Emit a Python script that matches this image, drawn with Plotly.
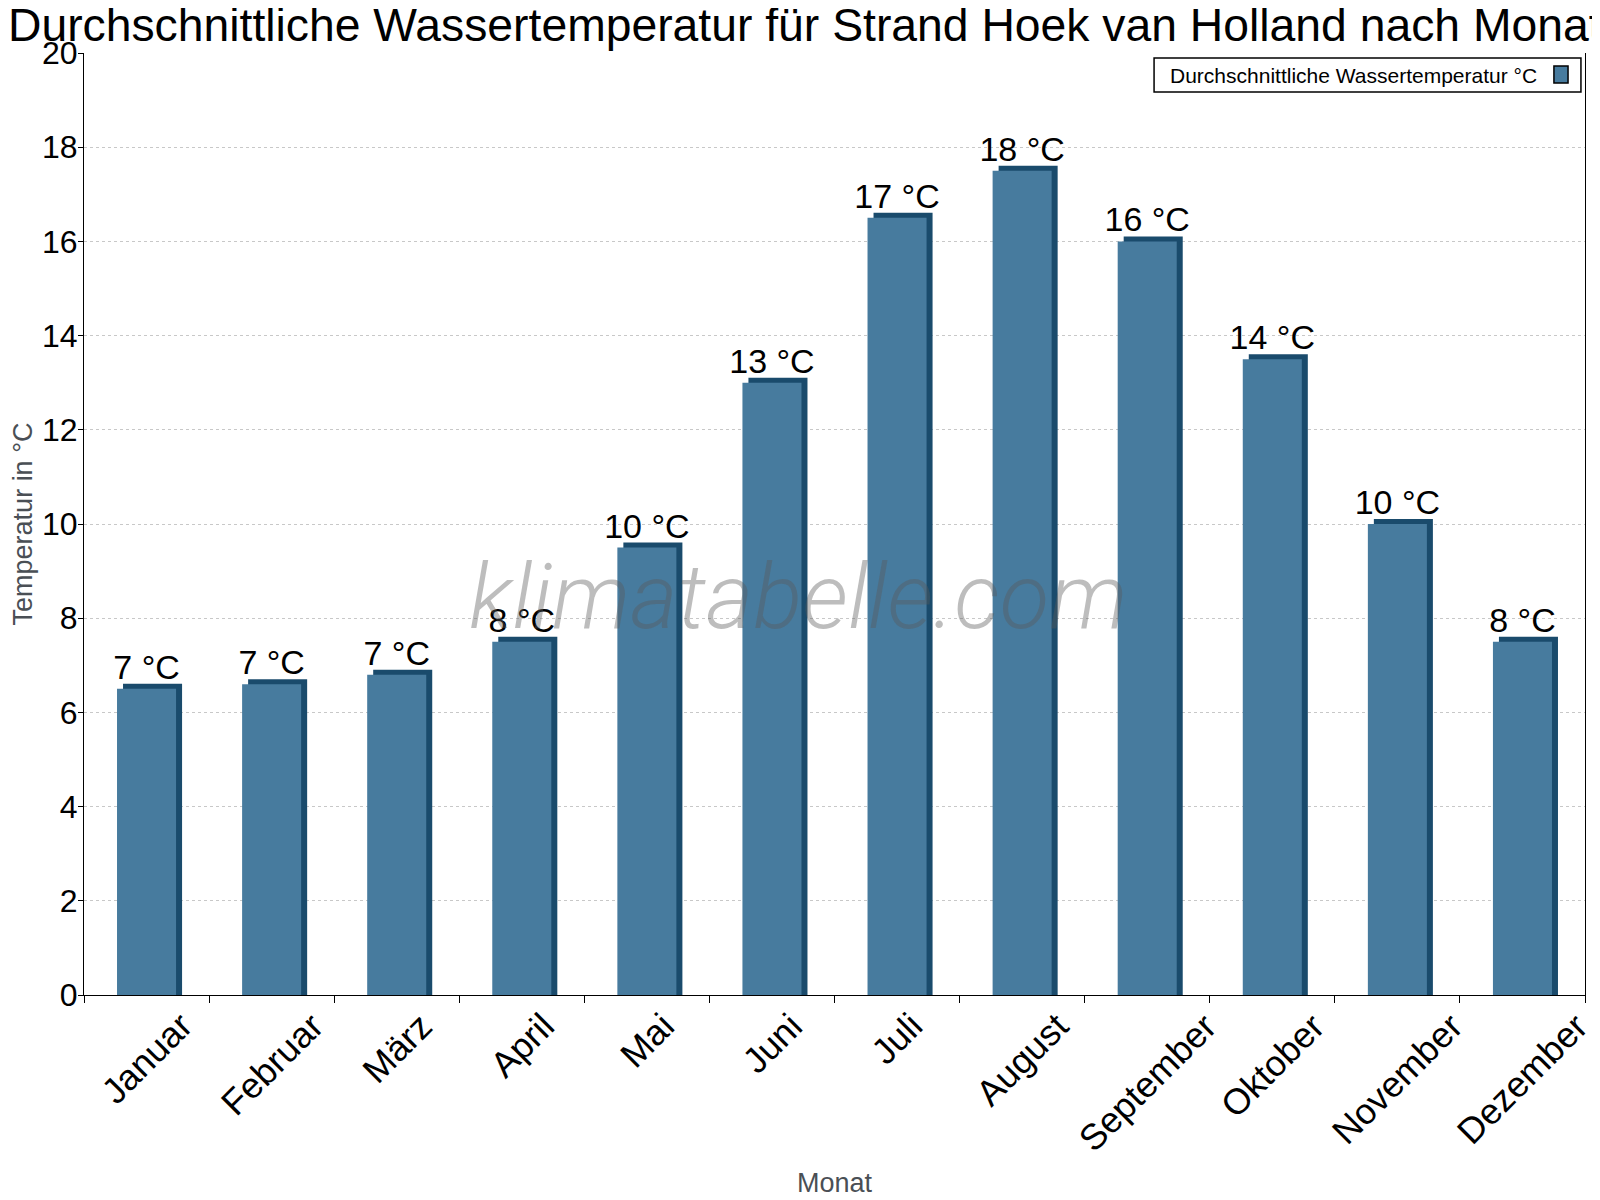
import plotly.graph_objects as go

monate = ['Januar', 'Februar', 'März', 'April', 'Mai', 'Juni', 'Juli',
          'August', 'September', 'Oktober', 'November', 'Dezember']
wassertemp = [6.5, 6.6, 6.8, 7.5, 9.5, 13.0, 16.5, 17.5, 16.0, 13.5, 10.0, 7.5]
beschriftung = ['7 °C', '7 °C', '7 °C', '8 °C', '10 °C', '13 °C', '17 °C',
                '18 °C', '16 °C', '14 °C', '10 °C', '8 °C']
y_ticks = list(range(0, 21, 2))

hell = '#477b9e'
dunkel = '#1a4b6c'
schrift = 'Liberation Sans, Arial, sans-serif'

fig = go.Figure()

# dunkle Rückseite für den 3D-Effekt (etwas nach rechts/oben versetzt)
fig.add_trace(go.Bar(
    x=monate, y=[v + 0.106 for v in wassertemp],
    width=0.472, offset=-0.188,
    marker=dict(color=dunkel, line=dict(width=0)),
    hoverinfo='skip', showlegend=False,
))
# Vorderseite
fig.add_trace(go.Bar(
    x=monate, y=wassertemp,
    width=0.472, offset=-0.236,
    marker=dict(color=hell, line=dict(width=0)),
    text=beschriftung, textposition='outside', constraintext='none',
    textfont=dict(family=schrift, size=34, color='black'),
    cliponaxis=False,
    name='Durchschnittliche Wassertemperatur °C', showlegend=False,
))

# die Seite hat 8px Rand -> Ränder entsprechend verschoben
fig.update_layout(
    template='none',
    barmode='overlay',
    width=1600, height=1200,
    margin=dict(l=76, r=23, t=45, b=213, autoexpand=False),
    plot_bgcolor='white', paper_bgcolor='white',
    font=dict(family=schrift, color='black'),
    title=dict(text='Durchschnittliche Wassertemperatur für Strand Hoek van Holland nach Monat',
               x=0.498, xanchor='center', y=1 - 16.5 / 1200, yanchor='middle',
               font=dict(size=46.3, color='black')),
)

fig.update_xaxes(
    type='category', range=[-0.5, len(monate) - 0.5],
    tickson='boundaries', ticks='outside', ticklen=7, tickcolor='black',
    showline=True, linecolor='black', linewidth=1, showgrid=False, automargin=False,
    showticklabels=False,
    title=dict(text='Monat', font=dict(size=27, color='#4a4f55'), standoff=178),
)
fig.update_yaxes(
    range=[0, 20], tickvals=y_ticks, ticks='outside', ticklen=5, tickcolor='black',
    showline=True, linecolor='black', linewidth=1, mirror=True, automargin=False,
    showgrid=True, gridcolor='#c8c8c8', griddash='dot', gridwidth=1, zeroline=False,
    tickfont=dict(size=32, color='black'), ticklabelstandoff=-6,
    title=dict(text='Temperatur in °C', font=dict(size=27, color='#4a4f55'), standoff=11),
)

# Monatsnamen schräg, mittig unter der Kategorie
for m in monate:
    fig.add_annotation(
        text=m, xref='x', yref='paper', x=m, y=-0.008,
        xanchor='center', yanchor='top', showarrow=False, textangle=-45,
        font=dict(size=36, color='black'),
    )

# Wasserzeichen
fig.add_annotation(
    text='klimatabelle.com', xref='paper', yref='paper', x=0.4763, y=0.4225,
    showarrow=False, xanchor='center', yanchor='middle',
    font=dict(family='Roboto, sans-serif', size=91, color='rgba(90,90,90,0.4)',
              style='italic', weight=300),
)

# Legende (Text links, Farbfeld rechts)
fig.add_shape(type='rect', xref='paper', yref='paper', x0=0.7129, x1=0.9973, y0=0.9586, y1=0.9947,
              line=dict(color='black', width=1.5), fillcolor='white', layer='above')
fig.add_shape(type='rect', xref='paper', yref='paper', x0=0.9793, x1=0.9887, y0=0.9682, y1=0.9862,
              line=dict(color='black', width=1.5), fillcolor=hell, layer='above')
fig.add_annotation(
    text='Durchschnittliche Wassertemperatur °C', xref='paper', yref='paper',
    x=0.7222, y=0.9766, xanchor='left', yanchor='middle', showarrow=False,
    font=dict(size=21, color='black'),
)

fig.write_html('out.html')
